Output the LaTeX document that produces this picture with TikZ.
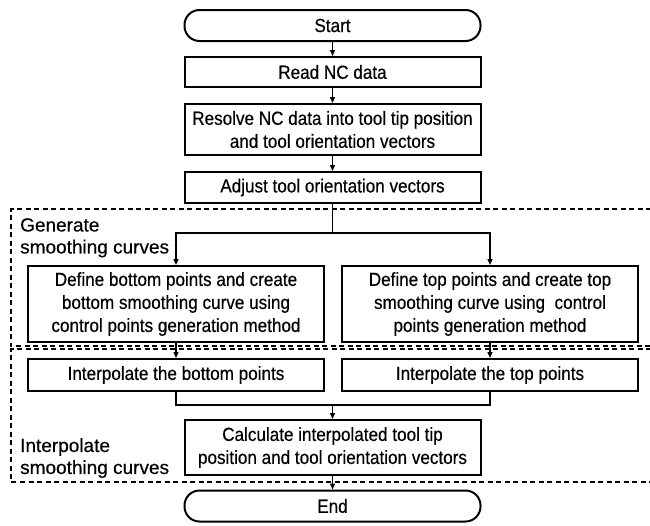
\documentclass[tikz,border=0pt]{standalone}
\usepackage{fontspec}
\setmainfont{Liberation Sans}[FakeStretch=0.9, FakeBold=0.4]
\usetikzlibrary{arrows.meta}

\begin{document}
\begin{tikzpicture}[x=1pt, y=-1pt,
  every node/.style={font=\fontsize{19}{23}\selectfont},
  box/.style={draw, line width=2pt, align=center, minimum width=296pt, inner sep=0pt},
  term/.style={box, rounded corners=15pt, minimum height=31pt},
  flow/.style={line width=1.4pt, -{Triangle[length=6pt,width=5pt]}},
  link/.style={line width=1.4pt},
  region/.style={dash pattern=on 5pt off 3.5pt, line width=1.3pt},
  label/.style={anchor=north west, align=left, inner sep=0pt,
    font=\fontsize{19}{22}\selectfont\addfontfeature{FakeStretch=1.0}}]
\useasboundingbox (0,0) rectangle (650,525);
\draw[region] (651,209) -| (11,346) -- (651,346);
\draw[region] (651,349) -| (11,482) -- (651,482);
\node[term] (start) at (332.5,25.5) {Start};
\node[box, minimum height=30pt] (read) at (332.5,72) {Read NC data};
\node[box, minimum height=51pt] (resolve) at (332.5,129.5) {Resolve NC data into tool tip position\\and tool orientation vectors};
\node[box, minimum height=31pt] (adjust) at (332.5,187.5) {Adjust tool orientation vectors};
\node[box, minimum height=76pt] (defbot) at (176,304) {Define bottom points and create\\bottom smoothing curve using\\control points generation method};
\node[box, minimum height=76pt] (deftop) at (490,304) {Define top points and create top\\smoothing curve using\ \ control\\points generation method};
\node[box, minimum height=32pt] (intbot) at (176,375) {Interpolate the bottom points};
\node[box, minimum height=32pt] (inttop) at (490,375) {Interpolate the top points};
\node[box, minimum height=55pt] (calc) at (332.5,447.5) {Calculate interpolated tool tip\\position and tool orientation vectors};
\node[term] (end) at (332.5,506) {End};
\node[label] (genlabel) at (20,218) {Generate\\smoothing curves};
\node[label] (intlabel) at (20,438) {Interpolate\\smoothing curves};
\coordinate (split) at (332.5,233);
\coordinate (merge) at (332.5,405);
\draw[flow] (start) -- (read);
\draw[flow] (read) -- (resolve);
\draw[flow] (resolve) -- (adjust);
\draw[link] (adjust) -- (split);
\draw[flow] (split) -| (defbot);
\draw[flow] (split) -| (deftop);
\draw[flow] (defbot) -- (intbot);
\draw[flow] (deftop) -- (inttop);
\draw[link] (intbot) |- (merge) -| (inttop);
\draw[flow] (merge) -- (calc);
\draw[flow] (calc) -- (end);
\end{tikzpicture}
\end{document}
